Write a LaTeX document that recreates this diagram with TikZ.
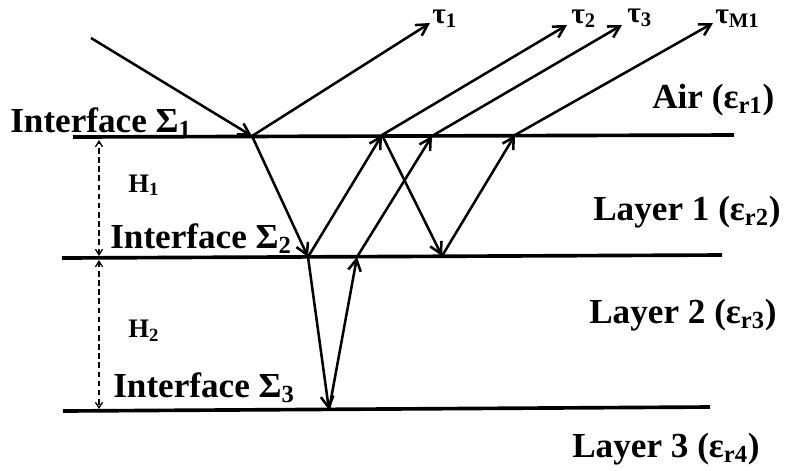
\documentclass[tikz,border=0pt]{standalone}
\usepackage{fontspec}
\setmainfont{Liberation Serif}
\usetikzlibrary{arrows.meta}

\begin{document}
\begin{tikzpicture}[x=0.025cm, y=-0.025cm,
    iface/.style={line width=2.6pt},
    ray/.style={line width=1.8pt, -{Straight Barb[length=8pt, width=9pt, line width=1.8pt]}},
    gap/.style={line width=0.9pt, dash pattern=on 4pt off 2.5pt, {Straight Barb[length=4pt, width=5pt, line width=0.9pt]}-{Straight Barb[length=4pt, width=5pt, line width=0.9pt]}},
    lbl/.style={font=\fontsize{25}{30}\selectfont\bfseries, inner sep=0pt},
    small/.style={font=\fontsize{19}{23}\selectfont\bfseries, inner sep=0pt},
    taulbl/.style={font=\fontsize{21}{25}\selectfont\bfseries, inner sep=0pt}
]
\useasboundingbox (0,0) rectangle (786,470);

% interfaces
\coordinate (s1w) at (73,137);  \coordinate (s1e) at (734,135);
\coordinate (s2w) at (62,258);  \coordinate (s2e) at (722,255);
\coordinate (s3w) at (63,411);  \coordinate (s3e) at (710,407);
\draw[iface] (s1w) -- (s1e);
\draw[iface] (s2w) -- (s2e);
\draw[iface] (s3w) -- (s3e);

% thicknesses
\coordinate (h1t) at (99,140);
\coordinate (h1b) at (99,256);
\coordinate (h2t) at (99,260);
\coordinate (h2b) at (99,409);
\draw[gap] (h1b) -- (h1t);
\draw[gap] (h2t) -- (h2b);

% ray points
\coordinate (inc) at (91,38);
\coordinate (p1) at (252,136);
\coordinate (p2) at (382,135);
\coordinate (p3) at (515,135);
\coordinate (p4) at (432,136);
\coordinate (q1) at (308,257);
\coordinate (q2) at (442,256);
\coordinate (q3) at (357,257);
\coordinate (r1) at (329,410);
\coordinate (o1) at (430,23);
\coordinate (o2) at (567,25);
\coordinate (o3) at (622,25);
\coordinate (oM) at (713,23);

\draw[ray] (inc) -- (p1);
\draw[ray] (p1) -- (o1);
\draw[ray] (p1) -- (q1);
\draw[ray] (q1) -- (p2);
\draw[ray] (p2) -- (o2);
\draw[ray] (p2) -- (q2);
\draw[ray] (q2) -- (p3);
\draw[ray] (p3) -- (oM);
\draw[ray] (q1) -- (r1);
\draw[ray] (r1) -- (q3);
\draw[ray] (q3) -- (p4);
\draw[ray] (p4) -- (o3);

% labels
\node[taulbl, anchor=base west] (tau1) at (432,23) {τ\textsubscript{1}};
\node[taulbl, anchor=base west] (tau2) at (571,23) {τ\textsubscript{2}};
\node[taulbl, anchor=base west] (tau3) at (627,22) {τ\textsubscript{3}};
\node[taulbl, anchor=base west] (tauM) at (715,23) {τ\textsubscript{M1}};

\node[lbl, anchor=base west] (if1) at (10,132) {Interface Σ\textsubscript{1}};
\node[lbl, anchor=base west] (if2) at (110,248) {Interface Σ\textsubscript{2}};
\node[lbl, anchor=base west] (if3) at (113,397) {Interface Σ\textsubscript{3}};

\node[small, anchor=base west] (hh1) at (128,192) {H\textsubscript{1}};
\node[small, anchor=base west] (hh2) at (128,337) {H\textsubscript{2}};

\node[lbl, anchor=base west] (air) at (652,108) {Air (ε\textsubscript{r1})};
\node[lbl, anchor=base west] (lay1) at (593,220) {Layer 1 (ε\textsubscript{r2})};
\node[lbl, anchor=base west] (lay2) at (589,323) {Layer 2 (ε\textsubscript{r3})};
\node[lbl, anchor=base west] (lay3) at (572,457) {Layer 3 (ε\textsubscript{r4})};
\end{tikzpicture}
\end{document}
